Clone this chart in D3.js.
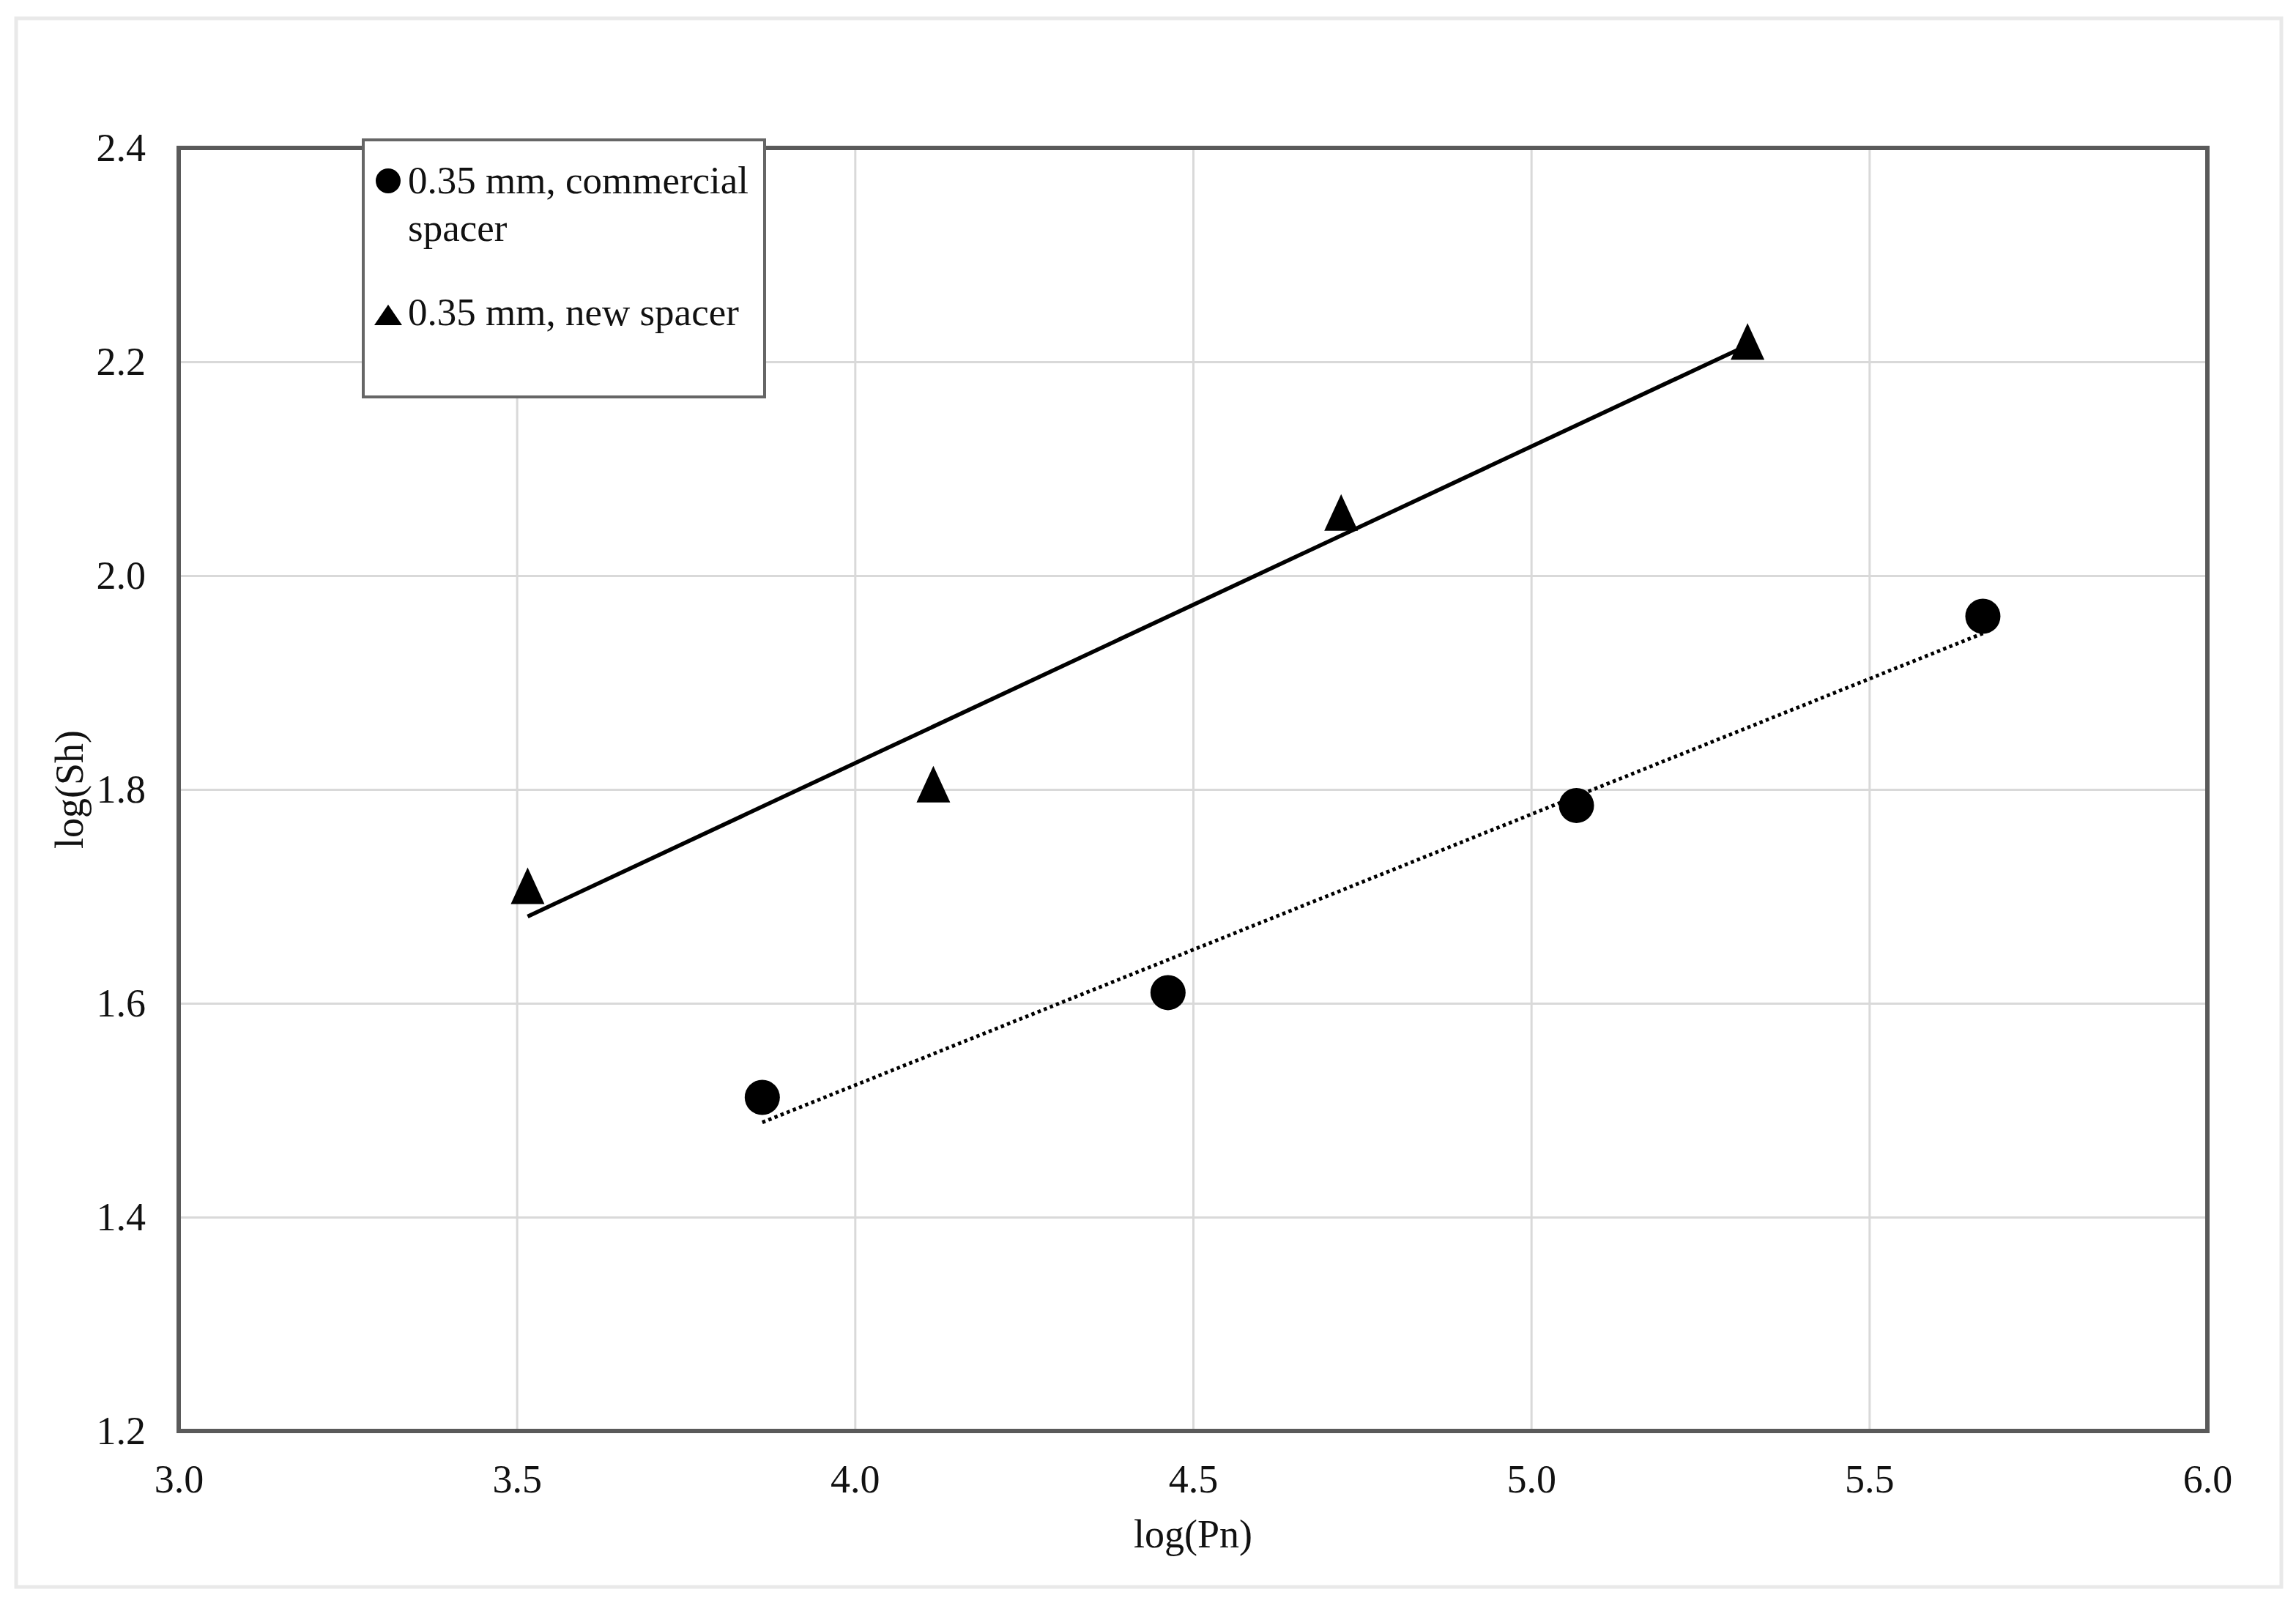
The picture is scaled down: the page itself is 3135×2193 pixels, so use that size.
<!DOCTYPE html>
<html>
<head>
<meta charset="utf-8">
<script src="https://cdn.jsdelivr.net/npm/d3@7"></script>
<style>
  body { margin: 0; background: #fff; }
  text { font-family: "Liberation Serif", "DejaVu Serif", serif; fill: #111; }
</style>
</head>
<body>
<svg id="chart" width="3135" height="2193"></svg>
<script>
// data
var commercialX = [3.863, 4.463, 5.067, 5.668];
var commercialY = [1.512, 1.610, 1.785, 1.962];
var newX = [3.516, 4.116, 4.719, 5.320];
var newY = [1.710, 1.805, 2.059, 2.219];
var xTicks = [3.0, 3.5, 4.0, 4.5, 5.0, 5.5, 6.0];
var yTicks = [1.2, 1.4, 1.6, 1.8, 2.0, 2.2, 2.4];
var legendLabels = ["0.35 mm, commercial", "spacer", "0.35 mm, new spacer"];

var plotL = 244, plotR = 3014, plotT = 202, plotB = 1954;
var fs = 54;

var svg = d3.select("#chart");

// outer frame
svg.append("rect")
  .attr("x", 22).attr("y", 25)
  .attr("width", 3093).attr("height", 2142)
  .attr("fill", "#fff")
  .attr("stroke", "#e9e9e9")
  .attr("stroke-width", 5);

var x = d3.scaleLinear().domain([3.0, 6.0]).range([plotL, plotR]);
var y = d3.scaleLinear().domain([1.2, 2.4]).range([plotB, plotT]);

// gridlines
var xGrid = d3.axisBottom(x).tickValues(xTicks.slice(1, -1)).tickSize(-(plotB - plotT)).tickFormat("");
var yGrid = d3.axisLeft(y).tickValues(yTicks.slice(1, -1)).tickSize(-(plotR - plotL)).tickFormat("");
svg.append("g").attr("transform", "translate(0," + plotB + ")").call(xGrid)
  .call(function(g) { g.select(".domain").remove(); })
  .selectAll("line").attr("stroke", "#d9d9d9").attr("stroke-width", 3);
svg.append("g").attr("transform", "translate(" + plotL + ",0)").call(yGrid)
  .call(function(g) { g.select(".domain").remove(); })
  .selectAll("line").attr("stroke", "#d9d9d9").attr("stroke-width", 3);

// tick labels
var xAxis = d3.axisBottom(x).tickValues(xTicks).tickSize(0).tickPadding(0).tickFormat(d3.format(".1f"));
var xa = svg.append("g").attr("transform", "translate(0," + plotB + ")").call(xAxis);
xa.select(".domain").remove();
xa.selectAll("text").attr("font-size", fs).attr("y", 84).attr("dy", null)
  .attr("font-family", "Liberation Serif").attr("fill", "#111");

var yAxis = d3.axisLeft(y).tickValues(yTicks).tickSize(0).tickPadding(0).tickFormat(d3.format(".1f"));
var ya = svg.append("g").attr("transform", "translate(" + plotL + ",0)").call(yAxis);
ya.select(".domain").remove();
ya.selectAll("text").attr("font-size", fs).attr("x", -45).attr("dy", "0.33em")
  .attr("font-family", "Liberation Serif").attr("fill", "#111");

// plot border
svg.append("rect")
  .attr("x", plotL).attr("y", plotT)
  .attr("width", plotR - plotL).attr("height", plotB - plotT)
  .attr("fill", "none")
  .attr("stroke", "#5a5a5a")
  .attr("stroke-width", 6);

// axis titles
svg.append("text")
  .attr("x", (plotL + plotR) / 2).attr("y", 2113)
  .attr("text-anchor", "middle").attr("font-size", fs)
  .text("log(Pn)");
svg.append("text")
  .attr("transform", "translate(113," + (plotT + plotB) / 2 + ") rotate(-90)")
  .attr("text-anchor", "middle").attr("font-size", fs)
  .text("log(Sh)");

// linear trendlines
function fit(xs, ys) {
  var mx = d3.mean(xs), my = d3.mean(ys);
  var sxy = d3.sum(xs, function(v, i) { return (v - mx) * (ys[i] - my); });
  var sxx = d3.sum(xs, function(v) { return (v - mx) * (v - mx); });
  var b = sxy / sxx, a = my - b * mx;
  var x0 = d3.min(xs), x1 = d3.max(xs);
  return [[x0, a + b * x0], [x1, a + b * x1]];
}
var line = d3.line()
  .x(function(d) { return x(d[0]); })
  .y(function(d) { return y(d[1]); });

svg.append("path")
  .datum(fit(newX, newY))
  .attr("d", line)
  .attr("fill", "none")
  .attr("stroke", "#000")
  .attr("stroke-width", 5.5);

svg.append("path")
  .datum(fit(commercialX, commercialY))
  .attr("d", line)
  .attr("fill", "none")
  .attr("stroke", "#000")
  .attr("stroke-width", 5)
  .attr("stroke-dasharray", "4.5,4.5");

// markers
var triangle = function(w, h) {
  return "M0," + (-h / 2) + "L" + (w / 2) + "," + (h / 2) + "L" + (-w / 2) + "," + (h / 2) + "Z";
};

svg.append("g").selectAll("circle")
  .data(commercialX)
  .join("circle")
  .attr("cx", function(d) { return x(d); })
  .attr("cy", function(d, i) { return y(commercialY[i]); })
  .attr("r", 24)
  .attr("fill", "#000");

svg.append("g").selectAll("path")
  .data(newX)
  .join("path")
  .attr("d", triangle(46, 50))
  .attr("transform", function(d, i) { return "translate(" + x(d) + "," + y(newY[i]) + ")"; })
  .attr("fill", "#000");

// legend
var lg = svg.append("g");
lg.append("rect")
  .attr("x", 496).attr("y", 191)
  .attr("width", 548).attr("height", 351)
  .attr("fill", "#fff")
  .attr("stroke", "#666")
  .attr("stroke-width", 4);
lg.append("circle").attr("cx", 530).attr("cy", 247).attr("r", 17).attr("fill", "#000");
lg.append("path").attr("d", triangle(38, 28)).attr("transform", "translate(530,430)").attr("fill", "#000");
lg.selectAll("text.lab")
  .data(legendLabels)
  .join("text")
  .attr("class", "lab")
  .attr("x", 557)
  .attr("y", function(d, i) { return [264, 329, 444][i]; })
  .attr("font-size", fs - 1)
  .text(function(d) { return d; });
</script>
</body>
</html>
